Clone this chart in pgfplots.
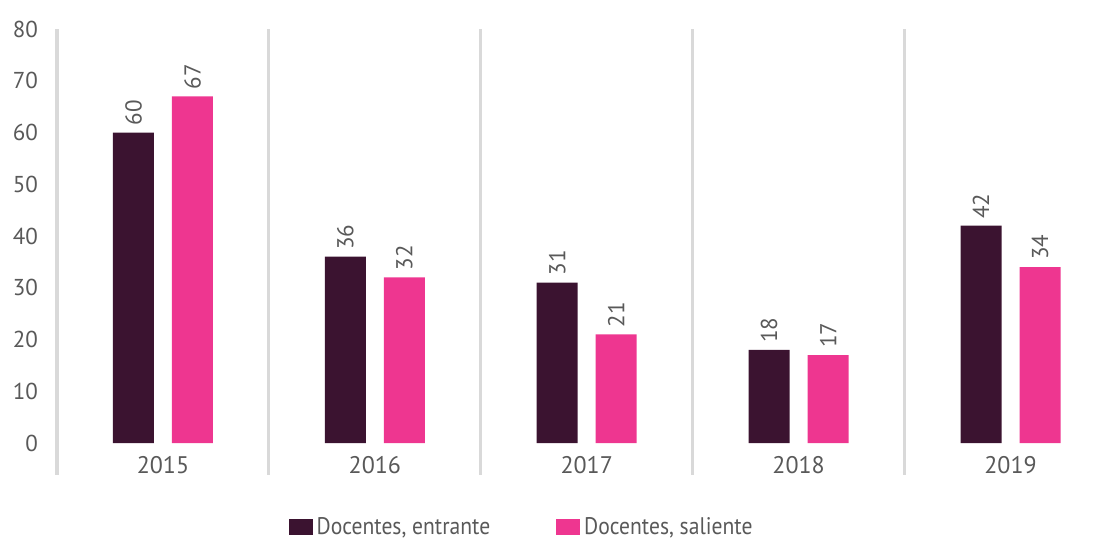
\documentclass[border=0pt]{standalone}
\usepackage{pgfplots}
\pgfplotsset{compat=1.18}
\usepackage{fontspec}
\setmainfont{PT Sans}
\newfontfamily\legfont{PT Sans}[FakeStretch=0.9]
\definecolor{dark}{HTML}{3B1330}
\definecolor{pink}{HTML}{EE3690}
\definecolor{txt}{HTML}{595959}
\definecolor{sep}{HTML}{D9D9D9}
\begin{document}
\begin{tikzpicture}
\path[use as bounding box] (-28.5pt,-48.5pt) rectangle (525.5pt,221.5pt);
\begin{axis}[
  at={(0,0)}, anchor=south west,
  scale only axis,
  width=525.5pt, height=207pt,
  xmin=-0.5, xmax=4.46,
  ymin=0, ymax=80,
  ytick={0,10,...,80},
  xtick={0,1,2,3,4},
  xticklabels={2015,2016,2017,2018,2019},
  axis line style={draw=none},
  major tick length=0pt,
  tick label style={font=\fontsize{11.5pt}{13pt}\selectfont, text=txt},
  yticklabel style={xshift=-6pt},
  xticklabel style={yshift=-3pt, font=\fontsize{12pt}{13pt}\selectfont},
  ybar=9pt, bar width=20.5pt,
  clip=false,
  /pgf/number format/assume math mode=true,
  nodes near coords,
  nodes near coords style={font=\fontsize{11.5pt}{13pt}\selectfont, text=txt, rotate=90, anchor=west, xshift=0pt},
  legend columns=2,
  legend style={at={(0.443,-0.203)}, anchor=center, draw=none, fill=none,
    font=\legfont\fontsize{12pt}{13pt}\selectfont, text=txt,
    /tikz/every even column/.append style={column sep=31pt}},
  legend image code/.code={\fill[#1] (0pt,-4pt) rectangle (12pt,4pt);},
]
\foreach \xx in {-0.5,0.5,1.5,2.5,3.5} {
  \edef\tmp{\noexpand\draw[sep, line width=1.6pt] (axis cs:\xx,80) -- (axis cs:\xx,-6.2);}
  \tmp
}
\addplot[fill=dark, draw=none] coordinates {(0,60) (1,36) (2,31) (3,18) (4,42)};
\addplot[fill=pink, draw=none] coordinates {(0,67) (1,32) (2,21) (3,17) (4,34)};
\legend{{Docentes, entrante}, {Docentes, saliente}}
\end{axis}
\end{tikzpicture}
\end{document}
